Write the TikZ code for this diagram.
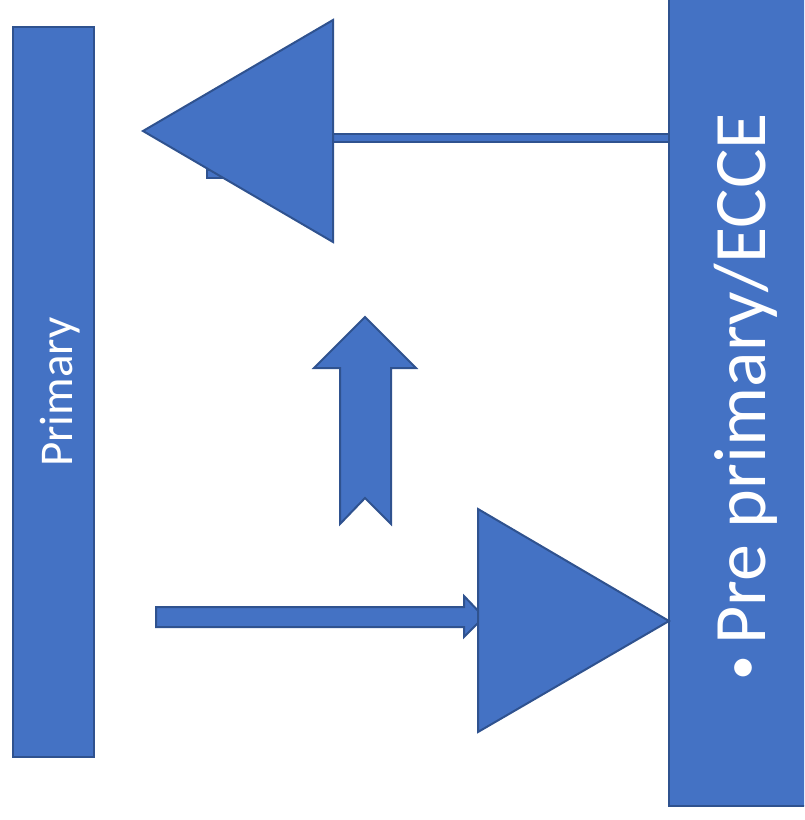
\documentclass[tikz,border=0pt]{standalone}
\usepackage{fontspec}
\setmainfont{Carlito}
\definecolor{boxblue}{HTML}{4472C4}
\definecolor{edgeblue}{HTML}{2F528F}
\tikzset{
	blueshape/.style={fill=boxblue, draw=edgeblue, line width=2pt},
	bar/.style={blueshape, rotate=90, inner sep=0pt},
	bartext/.style={rotate=90, text=white, inner sep=0pt}
}

\begin{document}
\begin{tikzpicture}[x=1pt, y=-1pt]
	\useasboundingbox (0,0) rectangle (804,820);
	\clip (0,0) rectangle (804,820);
	%\draw[gray, dashed] (0,0) grid[step=50] (804,820);

	\node[bar, minimum width=730, minimum height=81] (primary) at (53.5,392) {};
	\node[bartext, font=\fontsize{47}{56}\selectfont] (primarytext) at (60,392) {Primary};

	\node[bar, minimum width=840, minimum height=150] (ecce) at (744,386) {};
	\node[bartext, font=\fontsize{74}{88}\selectfont] (eccetext) at (746,397) {{\fontsize{50}{50}\selectfont\raisebox{8pt}{•}}\hspace{11pt}Pre primary/ECCE};

	% top arrow
	\draw[blueshape] (207,170) rectangle (226,178);
	\draw[blueshape] (333,134) rectangle (669,142);
	\draw[blueshape] (143,131) -- (333,20) -- (333,242) -- cycle;

	% up arrow
	\draw[blueshape] (365,317) -- (416,368) -- (391,368) -- (391,524) -- (365,498) -- (340,524) -- (340,368) -- (314,368) -- cycle;

	% bottom arrow
	\draw[blueshape] (156,607) -- (464,607) -- (464,596) -- (484,617) -- (464,637) -- (464,627) -- (156,627) -- cycle;
	\draw[blueshape] (669,621) -- (478,509) -- (478,732) -- cycle;
\end{tikzpicture}
\end{document}
